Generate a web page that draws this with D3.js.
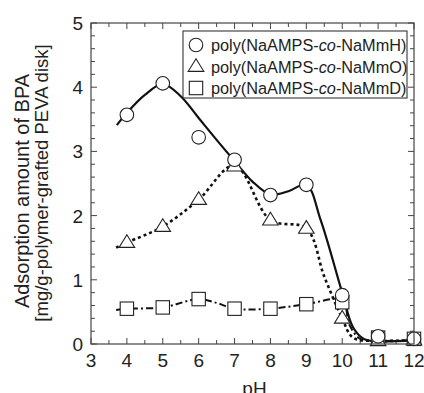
<!DOCTYPE html>
<html>
<head>
<meta charset="utf-8">
<script src="https://cdn.jsdelivr.net/npm/d3@7"></script>
<style>
  html, body { margin: 0; padding: 0; background: #fff; }
  svg { display: block; font-family: Arial, "Liberation Sans", sans-serif; }
</style>
</head>
<body>
<div id="chart"></div>
<script>
// Measured points
const phValues = [4, 5, 6, 7, 8, 9, 10, 11, 12];
const mmH = [3.57, 4.06, 3.22, 2.87, 2.32, 2.48, 0.76, 0.12, 0.08];
const mmO = [1.58, 1.83, 2.25, 2.77, 1.93, 1.80, 0.40, 0.05, 0.06];
const mmD = [0.55, 0.57, 0.70, 0.55, 0.55, 0.62, 0.65, 0.10, 0.08];

// Fitted guide curves (pH, amount)
const fitH = [[3.72, 3.41], [4, 3.6], [4.5, 3.88], [5, 4.05], [5.5, 3.86], [6, 3.52], [6.5, 3.18], [7, 2.85], [7.5, 2.53], [8, 2.33], [8.5, 2.38], [9, 2.48], [9.4, 1.93], [10, 0.8], [10.3, 0.26], [10.6, 0.08], [11, 0.04], [12, 0.06]];
const fitO = [[3.7, 1.5], [4, 1.58], [5, 1.83], [6, 2.25], [7, 2.78], [8, 1.93], [9, 1.80], [9.5, 1.05], [10, 0.4], [10.3, 0.1], [11, 0.05], [12, 0.06]];
const fitD = [[3.7, 0.53], [4, 0.55], [5, 0.57], [6, 0.70], [6.5, 0.64], [7, 0.55], [8, 0.55], [9, 0.62], [10, 0.68], [10.2, 0.3], [10.5, 0.08], [11, 0.05], [12, 0.06]];

const xTicks = [3, 4, 5, 6, 7, 8, 9, 10, 11, 12];
const yTicks = [0, 1, 2, 3, 4, 5];
const legendLabels = ['NaMmH', 'NaMmO', 'NaMmD'];

const W = 424, H = 393;
const margin = { top: 23, right: 10, bottom: 49, left: 91 };

const svg = d3.select('#chart').append('svg')
  .attr('width', W).attr('height', H);

const x = d3.scaleLinear().domain([3, 12]).range([margin.left, W - margin.right]);
const y = d3.scaleLinear().domain([0, 5]).range([H - margin.bottom, margin.top]);

const frameColor = '#444';

// ticks (inward on all sides)
const xMinor = d3.range(3, 12.01, 0.5);
const yMinor = d3.range(0, 5.001, 0.2);
const tickG = svg.append('g').attr('stroke', frameColor).attr('stroke-width', 1);
xMinor.forEach(v => {
  const len = Number.isInteger(v) ? 6 : 4;
  tickG.append('line').attr('x1', x(v)).attr('x2', x(v)).attr('y1', y(0)).attr('y2', y(0) - len);
  tickG.append('line').attr('x1', x(v)).attr('x2', x(v)).attr('y1', y(5)).attr('y2', y(5) + len);
});
yMinor.forEach(v => {
  const len = Math.abs(v - Math.round(v)) < 1e-6 ? 6 : 4;
  tickG.append('line').attr('y1', y(v)).attr('y2', y(v)).attr('x1', x(3)).attr('x2', x(3) + len);
  tickG.append('line').attr('y1', y(v)).attr('y2', y(v)).attr('x1', x(12)).attr('x2', x(12) - len);
});

// axis tick labels
svg.append('g').selectAll('text').data(xTicks).join('text')
  .attr('x', d => x(d)).attr('y', y(0) + 23)
  .attr('text-anchor', 'middle').attr('font-size', 19).attr('fill', '#222')
  .text(d => d);
svg.append('g').selectAll('text').data(yTicks).join('text')
  .attr('x', x(3) - 8).attr('y', d => y(d) + 7)
  .attr('text-anchor', 'end').attr('font-size', 19).attr('fill', '#222')
  .text(d => d);

// axis titles
svg.append('text').attr('x', (x(3) + x(12)) / 2 + 2).attr('y', 395)
  .attr('text-anchor', 'middle').attr('font-size', 19).attr('fill', '#222').text('pH');
svg.append('text').attr('transform', 'translate(29,191) rotate(-90)')
  .attr('text-anchor', 'middle').attr('font-size', 20).attr('fill', '#222')
  .text('Adsorption amount of BPA');
svg.append('text').attr('transform', 'translate(48,183) rotate(-90)')
  .attr('text-anchor', 'middle').attr('font-size', 18.5).attr('fill', '#222')
  .text('[mg/g-polymer-grafted PEVA disk]');

// curves
const line = d3.line().x(d => x(d[0])).y(d => y(d[1])).curve(d3.curveCatmullRom.alpha(0.5));
svg.append('path').datum(fitD).attr('d', line).attr('fill', 'none')
  .attr('stroke', '#111').attr('stroke-width', 2).attr('stroke-dasharray', '7,3,2,3');
svg.append('path').datum(fitO).attr('d', line).attr('fill', 'none')
  .attr('stroke', '#111').attr('stroke-width', 2.6).attr('stroke-dasharray', '3,3');
svg.append('path').datum(fitH).attr('d', line).attr('fill', 'none')
  .attr('stroke', '#111').attr('stroke-width', 2.2);

// markers
function marker(g, type, cx, cy) {
  if (type === 'circle') {
    g.append('circle').attr('cx', cx).attr('cy', cy).attr('r', 6.8);
  } else if (type === 'triangle') {
    const s = 7.8;
    g.append('path').attr('d', `M${cx},${cy - s}L${cx + s},${cy + s * 0.62}L${cx - s},${cy + s * 0.62}Z`);
  } else {
    g.append('rect').attr('x', cx - 6.7).attr('y', cy - 6.7).attr('width', 13.4).attr('height', 13.4);
  }
}
const markG = svg.append('g').attr('fill', '#fff').attr('stroke', '#222').attr('stroke-width', 1.1);
mmD.forEach((v, i) => marker(markG, 'square', x(phValues[i]), y(v)));
mmO.forEach((v, i) => marker(markG, 'triangle', x(phValues[i]), y(v)));
mmH.forEach((v, i) => marker(markG, 'circle', x(phValues[i]), y(v)));

// frame
svg.append('rect').attr('x', x(3)).attr('y', y(5))
  .attr('width', x(12) - x(3)).attr('height', y(0) - y(5))
  .attr('fill', 'none').attr('stroke', frameColor).attr('stroke-width', 1.2);

// legend
const lg = svg.append('g');
lg.append('rect').attr('x', 183).attr('y', 31).attr('width', 224).attr('height', 67)
  .attr('fill', '#fff').attr('stroke', '#222').attr('stroke-width', 1);
const types = ['circle', 'triangle', 'square'];
legendLabels.forEach((lab, i) => {
  const cy = 45 + i * 21.5;
  const g = lg.append('g').attr('fill', '#fff').attr('stroke', '#222').attr('stroke-width', 1.1);
  marker(g, types[i], 196, cy);
  const t = lg.append('text').attr('x', 211).attr('y', cy + 6)
    .attr('font-size', 16.3).attr('fill', '#222');
  t.append('tspan').text('poly(NaAMPS-');
  t.append('tspan').attr('font-style', 'italic').text('co');
  t.append('tspan').text('-' + lab + ')');
});
</script>
</body>
</html>
